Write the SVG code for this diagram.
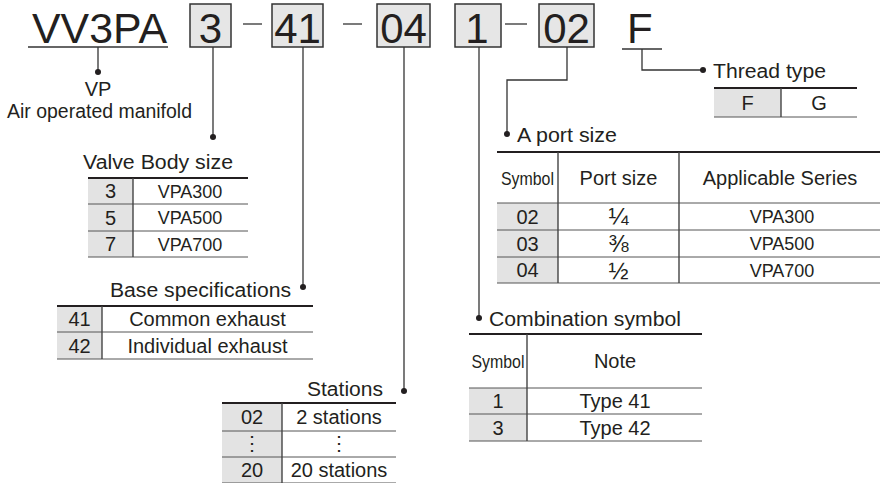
<svg xmlns="http://www.w3.org/2000/svg" width="881" height="483" viewBox="0 0 881 483">
<style>
text{font-family:"Liberation Sans",Arial,sans-serif;fill:#231f20}
.big{font-size:42px}
.lbl{font-size:20px}
.td{font-size:20px;text-anchor:middle}
.vp{font-size:18px;text-anchor:middle}
.fr{font-size:24px;text-anchor:middle}
.c{text-anchor:middle}
.box{fill:#e6e6e6;stroke:#333;stroke-width:1.5}
.sh{fill:#e3e3e3}
.ln{stroke:#333;stroke-width:1.3;fill:none}
.top{stroke:#231f20;stroke-width:2.2}
.row{stroke:#555;stroke-width:1}
.div{stroke:#444;stroke-width:1.4}
.dot{fill:#231f20}
</style>
<rect width="881" height="483" fill="#fff"/>

<g id="model">
<text class="big" x="32" y="43" textLength="135" lengthAdjust="spacingAndGlyphs">VV3PA</text>
<line class="ln" x1="28" y1="47" x2="168" y2="47"/>
</g>
<g id="code-3"><rect class="box" x="190" y="4" width="41" height="43"/><text class="big c" x="210.5" y="43">3</text></g>
<g id="code-41"><rect class="box" x="272" y="4" width="51" height="43"/><text class="big c" x="297.5" y="43">41</text></g>
<g id="code-04"><rect class="box" x="377" y="4" width="53" height="43"/><text class="big c" x="403.5" y="43">04</text></g>
<g id="code-1"><rect class="box" x="455" y="4" width="46" height="43"/><text class="big c" x="477" y="43">1</text></g>
<g id="code-02"><rect class="box" x="539" y="4" width="55" height="43"/><text class="big c" x="566.5" y="43">02</text></g>
<g id="code-F"><text class="big" x="627" y="43">F</text><line class="ln" x1="622" y1="49" x2="662" y2="49"/></g>

<g id="connectors">
<line class="ln" x1="243" y1="24" x2="262" y2="24"/>
<line class="ln" x1="343" y1="24" x2="362" y2="24"/>
<line class="ln" x1="505" y1="24" x2="527" y2="24"/>
<line class="ln" x1="98" y1="47" x2="98" y2="72"/><circle class="dot" cx="98" cy="72" r="3"/>
<line class="ln" x1="213" y1="47" x2="213" y2="137"/><circle class="dot" cx="213" cy="137" r="3"/>
<line class="ln" x1="303" y1="47" x2="303" y2="287"/><circle class="dot" cx="303" cy="287" r="3"/>
<line class="ln" x1="404" y1="47" x2="404" y2="391"/><circle class="dot" cx="404" cy="391" r="3"/>
<line class="ln" x1="479" y1="47" x2="479" y2="318"/><circle class="dot" cx="479" cy="318" r="3"/>
<polyline class="ln" points="567,47 567,80 507,80 507,134"/><circle class="dot" cx="507" cy="134" r="3"/>
<polyline class="ln" points="642,49 642,70 703,70"/><circle class="dot" cx="703" cy="70" r="3"/>
</g>

<g id="vp">
<text class="lbl c" x="98" y="96">VP</text>
<text class="lbl c" x="99.5" y="118" textLength="185" lengthAdjust="spacingAndGlyphs">Air operated manifold</text>
</g>

<g id="valve-body">
<text class="lbl" x="83" y="169" textLength="150" lengthAdjust="spacingAndGlyphs">Valve Body size</text>
<rect class="sh" x="88" y="178" width="45" height="79"/>
<line class="top" x1="88" y1="178" x2="248" y2="178"/>
<line class="row" x1="88" y1="204" x2="248" y2="204"/>
<line class="row" x1="88" y1="231" x2="248" y2="231"/>
<line class="row" x1="88" y1="257" x2="248" y2="257"/>
<line class="div" x1="133" y1="178" x2="133" y2="257"/>
<text class="td" x="110.5" y="198">3</text><text class="vp" x="190" y="197.5">VPA300</text>
<text class="td" x="110.5" y="224.5">5</text><text class="vp" x="190" y="224">VPA500</text>
<text class="td" x="110.5" y="251">7</text><text class="vp" x="190" y="250.5">VPA700</text>
</g>

<g id="base-spec">
<text class="lbl" x="291" y="297" text-anchor="end" textLength="181" lengthAdjust="spacingAndGlyphs">Base specifications</text>
<rect class="sh" x="57" y="306" width="45" height="53"/>
<line class="top" x1="57" y1="306" x2="313" y2="306"/>
<line class="row" x1="57" y1="332" x2="313" y2="332"/>
<line class="row" x1="57" y1="359" x2="313" y2="359"/>
<line class="div" x1="102" y1="306" x2="102" y2="359"/>
<text class="td" x="79.5" y="326">41</text><text class="td" x="207.5" y="326">Common exhaust</text>
<text class="td" x="79.5" y="352.5">42</text><text class="td" x="207.5" y="352.5">Individual exhaust</text>
</g>

<g id="stations">
<text class="lbl" x="383" y="396" text-anchor="end" textLength="76" lengthAdjust="spacingAndGlyphs">Stations</text>
<rect class="sh" x="222" y="403" width="60" height="80"/>
<line class="top" x1="222" y1="403" x2="396" y2="403"/>
<line class="row" x1="222" y1="431" x2="396" y2="431"/>
<line class="row" x1="222" y1="457" x2="396" y2="457"/>
<line class="row" x1="222" y1="483" x2="396" y2="483"/>
<line class="div" x1="282" y1="403" x2="282" y2="483"/>
<text class="td" x="252" y="424">02</text><text class="td" x="339" y="424">2 stations</text>
<text class="td" x="252" y="450" font-family="DejaVu Sans" font-size="14">⋮</text><text class="td" x="339" y="450" font-family="DejaVu Sans" font-size="14">⋮</text>
<text class="td" x="252" y="477">20</text><text class="td" x="339" y="477">20 stations</text>
</g>

<g id="thread-type">
<text class="lbl" x="713" y="78" textLength="113" lengthAdjust="spacingAndGlyphs">Thread type</text>
<rect class="sh" x="714" y="88" width="67" height="29"/>
<line class="top" x1="714" y1="88" x2="857" y2="88"/>
<line class="row" x1="714" y1="117" x2="857" y2="117"/>
<line class="div" x1="781" y1="88" x2="781" y2="117"/>
<text class="td" x="747.5" y="109.5">F</text><text class="td" x="819" y="109.5">G</text>
</g>

<g id="a-port">
<text class="lbl" x="517" y="142" textLength="100" lengthAdjust="spacingAndGlyphs">A port size</text>
<rect class="sh" x="497" y="203" width="61" height="80"/>
<line class="top" x1="497" y1="152" x2="880" y2="152"/>
<line class="row" x1="497" y1="203" x2="880" y2="203"/>
<line class="row" x1="497" y1="230" x2="880" y2="230"/>
<line class="row" x1="497" y1="257" x2="880" y2="257"/>
<line class="row" x1="497" y1="283" x2="880" y2="283"/>
<line class="div" x1="558" y1="152" x2="558" y2="283"/>
<line class="div" x1="679" y1="152" x2="679" y2="283"/>
<text class="c" x="527.5" y="185" font-size="18" textLength="53" lengthAdjust="spacingAndGlyphs">Symbol</text>
<text class="lbl c" x="618.5" y="185">Port size</text>
<text class="lbl c" x="780" y="185">Applicable Series</text>
<text class="td" x="527.5" y="223.5">02</text><text class="fr" x="618.5" y="225">¼</text><text class="vp" x="782" y="223">VPA300</text>
<text class="td" x="527.5" y="250.5">03</text><text class="fr" x="618.5" y="252">⅜</text><text class="vp" x="782" y="250">VPA500</text>
<text class="td" x="527.5" y="277">04</text><text class="fr" x="618.5" y="278.5">½</text><text class="vp" x="782" y="276.5">VPA700</text>
</g>

<g id="combination">
<text class="lbl" x="489" y="326" textLength="192" lengthAdjust="spacingAndGlyphs">Combination symbol</text>
<rect class="sh" x="469" y="388" width="58" height="53"/>
<line class="top" x1="469" y1="334" x2="702" y2="334"/>
<line class="row" x1="469" y1="388" x2="702" y2="388"/>
<line class="row" x1="469" y1="414" x2="702" y2="414"/>
<line class="row" x1="469" y1="441" x2="702" y2="441"/>
<line class="div" x1="527" y1="334" x2="527" y2="441"/>
<text class="c" x="498" y="368" font-size="18" textLength="53" lengthAdjust="spacingAndGlyphs">Symbol</text>
<text class="lbl c" x="615" y="368">Note</text>
<text class="td" x="498" y="408">1</text><text class="td" x="615" y="408">Type 41</text>
<text class="td" x="498" y="434.5">3</text><text class="td" x="615" y="434.5">Type 42</text>
</g>
</svg>
